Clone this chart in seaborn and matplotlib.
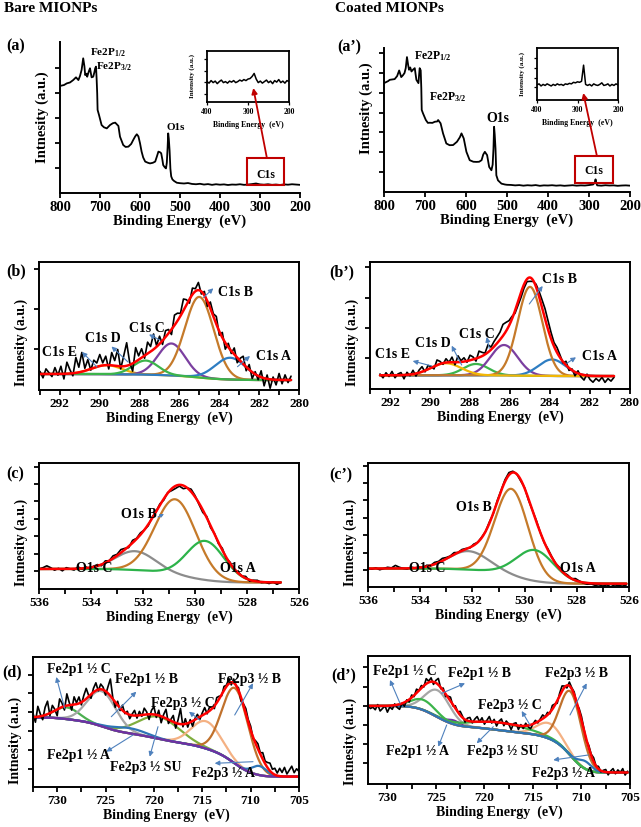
import numpy as np
import matplotlib
matplotlib.use("Agg")
import matplotlib.pyplot as plt
from matplotlib.patches import Rectangle, FancyArrowPatch
from matplotlib.ticker import MultipleLocator, NullFormatter
import seaborn as sns

W, H = 641, 827

# ---------------- survey spectra (a) / (a') ----------------
be_bare = [800, 790, 783, 775, 767, 760, 754, 750, 746, 742, 739, 737, 734, 732, 728, 725,
           721, 717, 714, 712, 710, 708.5, 707, 706, 702.5, 696, 690, 683, 675, 668, 662, 658,
           654, 650, 642, 636, 629, 622, 617, 612, 608, 604, 600, 596, 592, 587, 580, 575,
           568, 562, 558, 554, 550, 547, 544, 542, 538, 535, 533, 531, 529.5, 528, 526, 524,
           522, 519, 515, 508, 500,
           490, 480, 470, 460, 450, 440, 430, 420, 410, 400, 390, 380, 370, 360, 350, 340,
           330, 320, 310, 300, 290, 280, 270, 260, 250, 240, 230, 220, 210, 200]
int_bare = [70.9, 71.5, 72.6, 73.2, 74.8, 76.6, 74.8, 77.5, 81.5, 89.2, 84.0, 78.1, 79.0, 77.0,
            80.5, 82.6, 76.6, 77.0, 80.0, 82.6, 83.7, 76.0, 66.0, 55.0, 51.7, 45.0, 43.5, 42.8,
            45.0, 46.2, 46.6, 45.5, 44.4, 37.3, 31.8, 30.5, 30.7, 32.5, 35.1, 37.5, 38.9, 37.5,
            33.0, 27.4, 23.5, 20.8, 20.0, 19.6, 20.0, 20.8, 24.0, 27.4, 27.0, 26.3, 22.0, 18.5,
            17.0, 16.3, 20.0, 30.0, 39.5, 36.0, 28.0, 16.0, 11.0, 9.0, 8.0, 6.8, 6.5,
            6.3, 6.6, 6.0, 5.8, 6.1, 5.6, 5.9, 5.4, 5.8, 5.5, 5.7, 5.3, 5.6, 5.5, 5.8, 5.4,
            5.6, 5.9, 6.3, 5.7, 5.5, 5.8, 5.4, 5.6, 5.3, 5.7, 5.5, 5.8, 5.6, 5.4]

be_coat = [800, 790, 786, 774, 768, 763, 758, 754, 750, 747, 744, 741, 739, 736, 733, 729, 725,
           721, 716, 713, 710.5, 709, 708, 705, 698, 693, 688.5, 682, 676, 670, 668, 662, 656,
           648, 640, 631.5, 622, 615, 611, 605.5, 599, 591, 582, 574.5, 568, 562, 558, 554,
           548.5, 543.5, 538, 535, 533, 531.5, 530, 528, 526, 522, 513.5, 505, 500,
           490, 480, 470, 460, 450, 440, 430, 420, 410, 400, 390, 380, 370, 360, 350, 340,
           330, 320, 310, 300, 290, 286, 284, 282, 280, 270, 260, 250, 240, 230, 220, 210, 200]
int_coat = [75.6, 77.0, 77.9, 78.4, 80.5, 84.4, 79.8, 81.0, 82.6, 86.0, 93.7, 88.0, 84.9, 86.5,
            83.7, 85.0, 86.0, 77.9, 75.6, 86.0, 84.5, 72.0, 57.0, 54.7, 50.0, 48.0, 48.1, 48.0,
            48.8, 49.0, 50.0, 47.7, 40.7, 33.7, 32.5, 32.6, 34.9, 38.0, 40.7, 37.2, 27.9, 22.1,
            21.0, 20.9, 21.0, 22.1, 26.0, 27.9, 25.6, 17.4, 15.1, 19.0, 30.0, 45.3, 40.0, 30.0,
            11.6, 8.1, 5.8, 5.2, 5.0,
            4.9, 4.6, 4.8, 4.4, 4.7, 4.5, 4.8, 4.3, 4.6, 4.5, 4.7, 4.4, 4.6, 4.3, 4.5, 4.7,
            4.4, 4.6, 4.5, 4.8, 5.2, 6.5, 8.8, 6.0, 4.6, 4.4, 4.7, 4.5, 4.6, 4.3, 4.5, 4.6, 4.4]

# insets: C1s region 400-200 eV
inset_be = list(range(400, 195, -5))
inset_bare = [0.40, 0.37, 0.42, 0.38, 0.41, 0.36, 0.40, 0.43, 0.38, 0.40, 0.37, 0.41, 0.39, 0.42,
              0.38, 0.40, 0.43, 0.41, 0.44, 0.42, 0.45, 0.46, 0.50, 0.56, 0.45, 0.38, 0.41, 0.37,
              0.40, 0.43, 0.38, 0.41, 0.36, 0.42, 0.39, 0.44, 0.38, 0.41, 0.37, 0.42, 0.40]
inset_coat = [0.29, 0.31, 0.27, 0.30, 0.28, 0.31, 0.29, 0.27, 0.30, 0.28, 0.31, 0.29, 0.30, 0.28,
              0.31, 0.30, 0.32, 0.31, 0.34, 0.33, 0.35, 0.34, 0.36, 0.67, 0.30, 0.28, 0.30, 0.27,
              0.31, 0.29, 0.28, 0.30, 0.33, 0.28, 0.29, 0.31, 0.27, 0.30, 0.28, 0.31, 0.29]

# ---------------- C1s (b) / (b') : E, D, C, B, A ----------------
c1s_center_bare = [289.65, 287.7, 286.4, 285.0, 283.45]
c1s_height_bare = [7, 11, 25, 63, 17]
c1s_fwhm_bare = [1.8, 1.5, 1.6, 1.7, 1.8]
c1s_bg_bare = (12.5, 7.8)
c1s_noise_bare = [2, -3, 4, 1, -2, 5, -1, 6, -4, 9, 3, -2, 12, 4, 15, 2, 8, -1, 6, 3, 9,
                  2, 7, -3, 10, 4, 13, -2, 8, 18, 2, -6, 11, 3, 7, -2, 9, 4, 12, 1, 6, -3,
                  5, 3, -4, 8, 6, 2, 9, 4, -3, 5, 2, 6, -2, 3, -4, 5, 2, 6, -3, 4, -5,
                  3, -2, 5, -4, 2, 6, -3, 4, -5, 2, -3, 5, -6, 3, -7, 2, -4, 5, -3, 4, -2, 3]

c1s_center_coat = [289.2, 287.7, 286.3, 285.0, 283.9]
c1s_height_coat = [9.5, 9, 24, 70, 13]
c1s_fwhm_coat = [1.8, 1.5, 1.6, 1.45, 1.6]
c1s_bg_coat = (10.8, 10.2)
c1s_noise_coat = [1, -2, 2, -1, 3, -2, 1, 2, -3, 2, -1, 3, -2, 2, 4, -1, 3, 1, -2, 4,
                  2, -1, 3, 0, 4, -2, 5, 1, 3, -1, 4, 2, -2, 5, 3, 1, 6, 2, 4, 5,
                  6, 9, 7, 4, 2, -2, -3, -4, -3, -2, -3, -1, 2, 4, 6, 8, 7, 5, 3, 4,
                  2, -1, 3, -2, 1, -3, 2, -2, -4, 1, -3, -5, -2, -4, -1, -5, -2, -4, -1]

# ---------------- O1s (c) / (c') : C, B, A ----------------
o1s_center_bare = [532.3, 530.75, 529.6]
o1s_height_bare = [15, 60, 31]
o1s_fwhm_bare = [1.8, 1.85, 1.7]
o1s_bg_bare = (15.9, 5.2)
o1s_noise_bare = [0, 1, 2.5, 1, -1, 0.5, -1.5, 1, 0, -1, 1.5, -0.5, 1, -1, 0.5, 1, -1, 1.5, 0, 2,
                  1, 2.5, 1, -1, 2, 0.5, 1.5, 0, -1, 1, 0, 1, -1, 0.5, -1.5, -2, -1, -2.5, 0, 2,
                  1, -1, -2, 1, -1.5, 0.5, -1, 1.5, -1, 1, -0.5, 1, 0, 1.5, -1, 0.5, 1, -0.5,
                  0, -1, 0.5, -1.5, 0]

o1s_center_coat = [532.15, 530.5, 529.6]
o1s_height_coat = [15, 70, 25]
o1s_fwhm_coat = [1.8, 1.5, 1.7]
o1s_bg_coat = (14.9, 2.7)
o1s_noise_coat = [0, -0.5, 0.5, -1, 0, 1, 0.5, 2.5, 1, 0, -0.5, 1, 0, 0.5, -0.5, 1, 0, 1.5, 1, 2,
                  1, 0.5, 1.5, 0, 1, 0.5, -0.5, 1, 0, 0.5, 0, 1, -0.5, 1, 0.5, 1.5, 2, 1, 0, -1,
                  0.5, -1, 0, 1, 0, -0.5, 1, 0.5, 0, 1, 0.5, 1, 0, 1.5, 0.5, -0.5, -1, -0.5,
                  -1.5, -1, -2, -1, -2.5, -1, -1.5, -2, -1]

# ---------------- Fe2p (d) / (d') ----------------
fe_names = ["Fe2p1 ½ C", "Fe2p1 ½ B", "Fe2p1 ½ A", "Fe2p3 ½ SU",
            "Fe2p3 ½ C", "Fe2p3 ½ B", "Fe2p3 ½ A"]
fe_center_bare = [729.0, 725.4, 722.5, 719.5, 714.6, 711.6, 709.1]
fe_height_bare = [9, 27, 4, 17, 21, 58, 7]
fe_fwhm_bare = [3.0, 3.5, 4.0, 5.0, 3.6, 3.2, 1.8]
fe_bg_bare = (53.5, 8)
fe_noise_bare = [3, -4, 8, 2, -3, 6, 10, -2, 5, 1, -5, 7, 3, -3, 9, 2, -4, 6, 1, 5,
                 -2, 4, 8, 1, -3, 3, 6, -1, 4, 2, -3, 5, 13, 1, -4, 3, -2, 4, -1, 2,
                 -3, 1, 4, -2, 3, -1, 5, 2, -4, 3, 6, -2, 4, -5, 2, 7, -3, 1, 5, -4,
                 3, 12, -2, 4, -3, 2, -4, 1, 3, -2, 2, 5, -1, 3, 1, -2, 4, 2, -1, 3,
                 1, 4, -2, 3, 0, 2, -3, 1, 4, 2, 3, -1, 2, 4, 1, 5, 2, 4, 6, 3,
                 5, 2, 6, 3, 7, 2, 5, 8, 3, 6, 4]

fe_center_coat = [726.3, 724.8, 723.2, 718.5, 713.3, 711.1, 709.6]
fe_height_coat = [8, 21, 3, 6, 12, 50, 6]
fe_fwhm_coat = [3.0, 3.0, 1.5, 7.0, 3.0, 2.6, 1.6]
fe_bg_coat = (61, 9)
fe_noise_coat = [0, -2, -1, -3, 1, -4, -2, 0, -5, -1, -3, 1, -2, -4, 0, -3, 1, -2, 2, -1, 3, 0,
                 2, -1, 4, 1, 3, -2, 2, 5, -1, 2, -2, 1, 3, -1, 2, 0, 3, 1, -2, 2,
                 3, -1, 2, 4, 0, 3, -2, 1, 4, -1, 2, -3, 1, 3, -2, 2, 0, -4, 1, 2,
                 -3, 1, -2, 2, -1, -3, 0, 2, -1, 1, 3, 0, 2, -1, 3, 1, -2, 2, 4, 1,
                 -2, 3, 1, 2, -1, 2, 3, 1, -1, 2, 1, 3, 0, 2, -1, 1, 2, -2, 1, 3,
                 -1, 2, 0, 3, -2, 1]

# ---------------- style ----------------
sns.set_style("ticks", {"axes.edgecolor": "black", "xtick.color": "black",
                        "ytick.color": "black", "text.color": "black",
                        "axes.labelcolor": "black"})
plt.rcParams["font.family"] = ["Liberation Serif", "DejaVu Serif"]
plt.rcParams["font.weight"] = "bold"
plt.rcParams["axes.labelweight"] = "bold"
plt.rcParams["mathtext.fontset"] = "custom"
plt.rcParams["mathtext.rm"] = "Liberation Serif:bold"
plt.rcParams["mathtext.it"] = "Liberation Serif:bold"
plt.rcParams["mathtext.bf"] = "Liberation Serif:bold"
plt.rcParams["mathtext.default"] = "rm"

ARROW = "#4f81bd"
DARKRED = "#c00000"


def box(l, t, r, b):
    return [l / W, 1 - b / H, (r - l) / W, (b - t) / H]


def fp(x, y):
    return (x / W, 1 - y / H)


def line(ax, x, y, color, lw):
    sns.lineplot(x=x, y=y, color=color, lw=lw, ax=ax, estimator=None, sort=False)


def gauss(e, c, h, w):
    return h * np.exp(-4 * np.log(2) * (e - c) ** 2 / w ** 2)


def shirley_fit(e, centers, heights, fwhms, bg_lv):
    comps = [gauss(e, c, h, w) for c, h, w in zip(centers, heights, fwhms)]
    total = np.sum(comps, axis=0)
    order = np.argsort(e)
    cum = np.cumsum(total[order])
    frac = np.empty_like(e)
    frac[order] = cum / cum[-1]
    bg = bg_lv[1] + (bg_lv[0] - bg_lv[1]) * frac
    return bg, comps


def core_panel(ax, e_hi, e_lo, centers, heights, fwhms, bg_lv, noise, colors, order,
               bg_color=None):
    e = np.linspace(e_hi, e_lo, (len(noise) - 1) * 10 + 1)
    bg, comps = shirley_fit(e, centers, heights, fwhms, bg_lv)
    env = bg + np.sum(comps, axis=0)
    for i in order:
        if i < 0:
            line(ax, e, bg, bg_color, 1.6)
        else:
            line(ax, e, bg + comps[i], colors[i], 1.6)
    line(ax, e[::10], env[::10] + np.array(noise), "black", 1.2)
    line(ax, e, env, "red", 1.8)


def style(ax, xlim, major, minor, yticks, full=True, fs=9.5, lab=10, ylab_y=0.5):
    ax.set_xlim(*xlim)
    ax.set_ylim(0, 100)
    ax.xaxis.set_major_locator(MultipleLocator(major))
    if minor:
        ax.xaxis.set_minor_locator(MultipleLocator(minor))
    ax.set_yticks(yticks)
    ax.yaxis.set_major_formatter(NullFormatter())
    ax.tick_params(axis="both", which="both", direction="out", length=3.5, width=1.3,
                   labelsize=fs, pad=2.5)
    for s in ax.spines.values():
        s.set_linewidth(1.4)
    if not full:
        ax.spines["top"].set_visible(False)
        ax.spines["right"].set_visible(False)
    ax.set_xlabel("Binding Energy  (eV)", fontsize=lab, labelpad=1)
    ax.set_ylabel("Intnesity (a.u.)", fontsize=lab, labelpad=2)
    ax.yaxis.label.set_y(ylab_y)


def arrows(pairs, color=ARROW, lw=0.8, ms=7):
    for (tx, ty), (hx, hy) in pairs:
        fig.add_artist(FancyArrowPatch(fp(tx, ty), fp(hx, hy), transform=fig.transFigure,
                                       arrowstyle="-|>", mutation_scale=ms, color=color,
                                       lw=lw, shrinkA=0, shrinkB=0))


def labels(items, fs=10):
    for txt, x, y in items:
        fig.text(*fp(x, y), txt, ha="center", va="center", fontsize=fs)


fig = plt.figure(figsize=(W / 100, H / 100), dpi=100)

# ---------------- (a) and (a') ----------------
for bx, be, it, tks, ly in [((60, 42, 300, 193), be_bare, int_bare,
                             [16.6, 33.2, 49.8, 66.4, 83.0], 0.5),
                            ((384, 48, 630, 192), be_coat, int_coat,
                             [14, 27.8, 41.5, 55.2, 68.9, 82.6, 96.3], 0.58)]:
    ax = fig.add_axes(box(*bx))
    line(ax, be, it, "black", 1.3)
    style(ax, (800, 200), 100, None, tks, full=False, fs=10.5, lab=10.5, ylab_y=ly)
    ax.xaxis.labelpad = 0

for bx, ins, tks in [((207, 51, 289, 102), inset_bare, [0.165, 0.39, 0.61, 0.835]),
                     ((537, 48, 618, 100), inset_coat, [0.25, 0.43, 0.61, 0.8])]:
    ia = fig.add_axes(box(*bx))
    line(ia, inset_be, ins, "black", 1.1)
    ia.set_xlim(400, 200)
    ia.set_ylim(0, 1)
    ia.xaxis.set_major_locator(MultipleLocator(100))
    ia.set_yticks(tks)
    ia.yaxis.set_major_formatter(NullFormatter())
    ia.tick_params(axis="both", direction="out", length=2, width=0.9, labelsize=5.6, pad=2.5)
    for s in ia.spines.values():
        s.set_linewidth(1.3)
    ia.set_xlabel("Binding Energy  (eV)", fontsize=5.6, labelpad=3.5)
    ia.set_ylabel("Intensity (a.u.)", fontsize=5, labelpad=4)

for (l, t, r, b), (cx, cy), arr in [((247, 158, 284, 185), (265.5, 175), ((266.7, 157), (253.3, 88))),
                                    ((575, 156, 613, 183), (594, 171), ((596.7, 155), (583.3, 93)))]:
    fig.add_artist(Rectangle(fp(l, b), (r - l) / W, (b - t) / H, transform=fig.transFigure,
                             fill=False, edgecolor=DARKRED, lw=1.5))
    fig.text(*fp(cx, cy), "C1s", ha="center", va="center", fontsize=8.5)
    arrows([arr], color=DARKRED, lw=1.3, ms=8)

fig.text(*fp(90.5, 52.5), r"Fe2P$_{1/2}$", ha="left", va="center", fontsize=8)
fig.text(*fp(95.5, 67), r"Fe2P$_{3/2}$", ha="left", va="center", fontsize=8)
fig.text(*fp(166, 127), "O1s", ha="left", va="center", fontsize=8)
fig.text(*fp(414, 56), r"Fe2P$_{1/2}$", ha="left", va="center", fontsize=8.5)
fig.text(*fp(429, 97), r"Fe2P$_{3/2}$", ha="left", va="center", fontsize=8.5)
fig.text(*fp(486, 118), "O1s", ha="left", va="center", fontsize=10)

# ---------------- (b) and (b') ----------------
c1s_colors = ["#f2b705", "#3cb44b", "#7b3fa0", "#c57a2a", "#2e7dc2"]
ax = fig.add_axes(box(39, 262, 299, 390))
core_panel(ax, 293.0, 280.4, c1s_center_bare, c1s_height_bare, c1s_fwhm_bare, c1s_bg_bare,
           c1s_noise_bare, c1s_colors, [0, 2, 3, 4, 1])
style(ax, (293.05, 280), 2, 1, [32.1, 63.4, 94.5], ylab_y=0.37)
ax = fig.add_axes(box(370, 262, 630, 389))
core_panel(ax, 292.5, 280.8, c1s_center_coat, c1s_height_coat, c1s_fwhm_coat, c1s_bg_coat,
           c1s_noise_coat, c1s_colors, [1, 2, 4, 3, 0])
style(ax, (293, 280), 2, 1, [24.4, 48, 71.6, 96], ylab_y=0.37)

labels([("C1s E", 59, 353), ("C1s D", 102.5, 339), ("C1s C", 146.7, 329),
        ("C1s B", 236, 292), ("C1s A", 274, 356),
        ("C1s E", 392.5, 355), ("C1s D", 433, 343), ("C1s C", 477, 335),
        ("C1s B", 559, 280), ("C1s A", 599, 356)])
arrows([((97, 367), (82, 352)), ((128, 362), (111.5, 346.5)), ((160, 340), (149, 334.5)),
        ((203.5, 297.5), (213.3, 288.3)), ((237.5, 366.7), (250, 356)),
        ((431.7, 366), (412.7, 361)), ((461.7, 365), (451.7, 345.7)),
        ((489.3, 348.3), (486.7, 337)), ((529.3, 304), (542.7, 286)),
        ((566.7, 363.3), (576, 357.3))])

# ---------------- (c) and (c') ----------------
o1s_colors = ["#8c8c8c", "#c57a2a", "#2db34a"]
ax = fig.add_axes(box(39, 463, 299, 589))
core_panel(ax, 536.0, 526.7, o1s_center_bare, o1s_height_bare, o1s_fwhm_bare, o1s_bg_bare,
           o1s_noise_bare, o1s_colors, [0, 1, 2])
style(ax, (536, 526), 2, 1, [14, 28, 41.8, 55.6, 69.6, 83.3, 97.2], ylab_y=0.37)
ax = fig.add_axes(box(368, 463, 629, 587))
core_panel(ax, 536.0, 526.1, o1s_center_coat, o1s_height_coat, o1s_fwhm_coat, o1s_bg_coat,
           o1s_noise_coat, o1s_colors, [0, 1, 2])
style(ax, (536, 526), 2, 1, [13.5, 27.8, 41.9, 55.9, 69.9, 83.8, 97.3], ylab_y=0.36)

labels([("O1s B", 139, 515), ("O1s C", 94, 569), ("O1s A", 237.5, 569),
        ("O1s B", 474, 508), ("O1s C", 427, 569), ("O1s A", 577.5, 569)])
arrows([((158, 517), (164, 514))], ms=5)

# ---------------- (d) and (d') ----------------
fe_colors_bare = ["#4caf50", "#a6a6a6", "#2e75b6", "#7fae3e", "#f4b183", "#c0712c", "#2e75b6"]
fe_colors_coat = ["#3cb44b", "#a6a6a6", "#7030a0", "#3cb44b", "#f4b183", "#c0712c", "#2e75b6"]
ax = fig.add_axes(box(33, 657, 299, 787))
core_panel(ax, 732.5, 705.0, fe_center_bare, fe_height_bare, fe_fwhm_bare, fe_bg_bare,
           fe_noise_bare, fe_colors_bare, [0, 3, 1, 4, 5, 2, 6, -1], bg_color="#7030a0")
style(ax, (732.5, 705), 5, 2.5, [13.8, 28.5, 43, 57.5, 72, 86.5], ylab_y=0.355)
ax = fig.add_axes(box(368, 656, 630, 784))
core_panel(ax, 732.0, 705.25, fe_center_coat, fe_height_coat, fe_fwhm_coat, fe_bg_coat,
           fe_noise_coat, fe_colors_coat, [-1, 2, 4, 1, 3, 0, 5, 6], bg_color="#7030a0")
style(ax, (732, 705), 5, 2.5, [16.2, 31, 46.1, 61.2, 76, 91.6], ylab_y=0.33)

labels([(fe_names[0], 78.5, 670), (fe_names[1], 146.5, 680), (fe_names[5], 249, 680),
        (fe_names[4], 183, 704), (fe_names[2], 78.5, 755), (fe_names[3], 145.5, 768),
        (fe_names[6], 223.5, 773),
        (fe_names[0], 405, 671), (fe_names[1], 480, 673), (fe_names[5], 576.5, 673),
        (fe_names[4], 510, 705), (fe_names[2], 418, 752), (fe_names[3], 503, 752),
        (fe_names[6], 563, 773)])
arrows([((64.7, 708.3), (56.3, 677)), ((111.3, 716.7), (136.3, 691.7)),
        ((199.7, 720), (189, 711.7)), ((234.7, 715), (253, 683.3)),
        ((133, 735), (106.3, 751.7)), ((158, 726.7), (149.7, 756.7)),
        ((253, 761.7), (214.7, 763.3)),
        ((400, 703.3), (390, 680)), ((441.7, 693.3), (465, 683.3)),
        ((530, 725), (521.7, 711)), ((570, 715), (586.7, 683.3)),
        ((446.7, 725), (438.3, 746.7)), ((493.3, 726.7), (476.7, 743.3)),
        ((588.3, 755), (553.3, 760))])

# ---------------- titles / panel letters ----------------
fig.text(*fp(4, 8), "Bare MIONPs", ha="left", va="center", fontsize=11)
fig.text(*fp(335, 8), "Coated MIONPs", ha="left", va="center", fontsize=11)
for txt, x, y in [("(a)", 6, 46), ("(a’)", 337, 47), ("(b)", 6, 271), ("(b’)", 329, 272),
                  ("(c)", 6, 474), ("(c’)", 329, 475), ("(d)", 2, 672), ("(d’)", 331, 675)]:
    fig.text(*fp(x, y), txt, ha="left", va="center", fontsize=11.5)

fig.savefig("out.png", dpi=100)
